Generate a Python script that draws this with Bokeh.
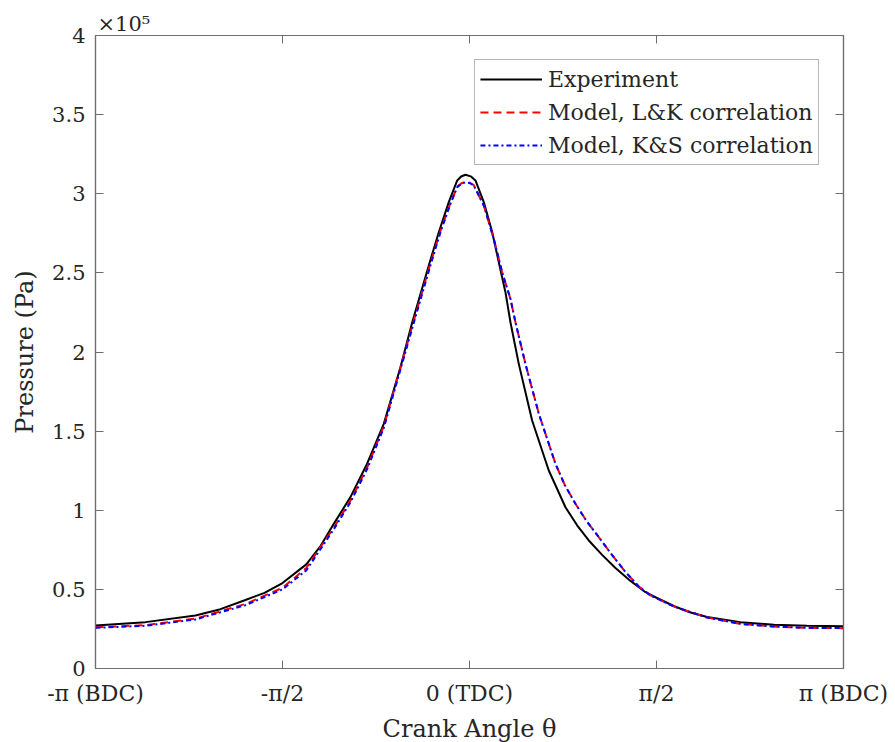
import math
from bokeh.plotting import figure
from bokeh.models import (FixedTicker, LinearAxis, Legend, LegendItem, Range1d)
from bokeh.embed import file_html
from bokeh.resources import INLINE

PI = math.pi

# ---- data; pressure in units of 1e5 Pa ----
theta_exp = [-PI, -2.722, -2.302, -2.092, -1.882, -1.722, -PI/2, -1.371, -1.250,
             -1.140, -1.000, -0.860, -0.720, -0.580, -0.481, -0.342, -0.258,
             -0.174, -0.103, -0.070, -0.034, 0.010, 0.050, 0.120, 0.191, 0.246,
             0.302, 0.344, 0.414, 0.526, 0.666, 0.806, 0.904, 1.002, 1.114,
             1.226, 1.350, 1.478, PI/2, 1.716, 1.850, 1.996, 2.276, 2.556, 2.836, PI]
p_exp = [0.272, 0.293, 0.335, 0.375, 0.433, 0.478, 0.540, 0.658, 0.775,
         0.914, 1.083, 1.294, 1.546, 1.904, 2.188, 2.547, 2.757,
         2.947, 3.084, 3.109, 3.12, 3.110, 3.084, 2.947, 2.757, 2.567,
         2.378, 2.188, 1.925, 1.567, 1.251, 1.019, 0.905, 0.809, 0.718,
         0.635, 0.555, 0.482, 0.447, 0.395, 0.355, 0.326, 0.293, 0.276, 0.270, 0.267]

theta_ks = [-PI, -2.722, -2.302, -1.882, -PI/2, -1.371, -1.140, -1.000, -0.860,
            -0.720, -0.580, -0.467, -0.328, -0.244, -0.160, -0.103, -0.070,
            -0.034, 0.000, 0.036, 0.120, 0.204, 0.274, 0.344, 0.386, 0.470,
            0.582, 0.722, 0.800, 0.890, 0.985, 1.086, 1.200, 1.310, 1.420,
            1.520, 1.716, 1.996, 2.276, 2.556, 2.836, PI]
p_ks = [0.257, 0.270, 0.310, 0.400, 0.50, 0.62, 0.88, 1.05, 1.26,
        1.52, 1.89, 2.188, 2.547, 2.757, 2.936, 3.042, 3.062,
        3.073, 3.068, 3.052, 2.926, 2.715, 2.504, 2.336, 2.188, 1.925,
        1.61, 1.294, 1.16, 1.041, 0.93, 0.83, 0.715, 0.61, 0.52,
        0.462, 0.392, 0.322, 0.282, 0.265, 0.257, 0.255]

theta_lk = [-PI, -2.722, -2.302, -1.882, -PI/2, -1.371, -1.140, -1.000, -0.860,
            -0.720, -0.580, -0.467, -0.328, -0.244, -0.160, -0.103, -0.070,
            -0.034, 0.000, 0.036, 0.120, 0.204, 0.274, 0.344, 0.386, 0.470,
            0.582, 0.722, 0.800, 0.890, 0.985, 1.086, 1.200, 1.310, 1.420,
            1.520, 1.716, 1.996, 2.276, 2.556, 2.836, PI]
p_lk = [0.260, 0.274, 0.315, 0.408, 0.51, 0.635, 0.89, 1.06, 1.27,
        1.53, 1.90, 2.20, 2.56, 2.765, 2.94, 3.045, 3.065,
        3.076, 3.070, 3.054, 2.926, 2.715, 2.504, 2.336, 2.188, 1.925,
        1.61, 1.294, 1.16, 1.041, 0.93, 0.83, 0.715, 0.61, 0.52,
        0.462, 0.392, 0.322, 0.282, 0.265, 0.257, 0.255]

x_ticks = [-PI, -PI/2, 0.0, PI/2, PI]
x_tick_labels = ["-π (BDC)", "-π/2", "0 (TDC)", "π/2", "π (BDC)"]
y_ticks = [0, 0.5, 1, 1.5, 2, 2.5, 3, 3.5, 4]
y_tick_labels = ["0", "0.5", "1", "1.5", "2", "2.5", "3", "3.5", "4"]
SCALE = 1e5

FONT = "DejaVu Serif"
TXT = "#262626"
AX = "#6e6e6e"

p = figure(frame_width=748, frame_height=633, output_backend="svg",
           toolbar_location=None,
           x_range=Range1d(-PI, PI), y_range=Range1d(0, 4 * SCALE),
           min_border_left=95, min_border_right=47, min_border_top=35,
           min_border_bottom=60, x_axis_label="Crank Angle θ",
           y_axis_label="Pressure (Pa)", title="×10⁵")
p.grid.visible = False
p.outline_line_color = AX
p.outline_line_width = 1.2
p.background_fill_color = "white"
p.border_fill_color = "white"
p.title.align = "left"
p.title.offset = 2
p.title.standoff = 0
p.title.text_font = FONT
p.title.text_font_size = "21px"
p.title.text_font_style = "normal"
p.title.text_color = TXT

xt = FixedTicker(ticks=x_ticks)
yt = FixedTicker(ticks=[v * SCALE for v in y_ticks])
x_over = {t: l for t, l in zip(x_ticks, x_tick_labels)}
y_over = {v * SCALE: l for v, l in zip(y_ticks, y_tick_labels)}

def style(ax, labels=True):
    ax.axis_line_color = AX
    ax.axis_line_width = 1.2
    ax.major_tick_line_color = AX
    ax.major_tick_in = 8
    ax.major_tick_out = 0
    ax.minor_tick_line_color = None
    ax.major_label_text_font = FONT
    ax.major_label_text_font_size = "21px"
    ax.major_label_text_color = TXT
    ax.axis_label_text_font = FONT
    ax.axis_label_text_font_size = "24px"
    ax.axis_label_text_font_style = "normal"
    ax.axis_label_text_color = TXT
    if not labels:
        ax.major_label_text_color = None
        ax.major_label_text_font_size = "1px"
        ax.major_label_standoff = 0

p.xaxis.ticker = xt
p.xaxis.major_label_overrides = x_over
p.yaxis.ticker = yt
p.yaxis.major_label_overrides = y_over
style(p.xaxis[0]); style(p.yaxis[0])
p.xaxis.major_label_text_font_size = "22px"
p.xaxis.major_label_standoff = 12
p.yaxis.major_label_standoff = 10
p.xaxis.axis_label_standoff = 6
p.yaxis.axis_label_standoff = 10

top = LinearAxis(ticker=xt, major_label_overrides=x_over)
style(top, labels=False)
right = LinearAxis(ticker=yt, major_label_overrides=y_over)
style(right, labels=False)
p.add_layout(top, "above")
p.add_layout(right, "right")

r_exp = p.line(theta_exp, [v * SCALE for v in p_exp],
               line_color="black", line_width=2)
r_lk = p.line(theta_lk, [v * SCALE for v in p_lk], line_color="#ff0000",
              line_width=2, line_dash="8 5")
r_ks = p.line(theta_ks, [v * SCALE for v in p_ks], line_color="#0000ff",
              line_width=2, line_dash="5 3 2 3")

legend = Legend(items=[LegendItem(label="Experiment", renderers=[r_exp]),
                       LegendItem(label="Model, L&K correlation", renderers=[r_lk]),
                       LegendItem(label="Model, K&S correlation", renderers=[r_ks])],
                location="top_right")
legend.margin = 24
legend.padding = 5
legend.spacing = 5
legend.glyph_width = 62
legend.glyph_height = 28
legend.label_height = 28
legend.label_standoff = 6
legend.label_text_font = FONT
legend.label_text_font_size = "22px"
legend.label_text_color = TXT
legend.border_line_color = AX
legend.border_line_width = 1.2
legend.background_fill_alpha = 1.0
p.add_layout(legend)

open("out.html", "w").write(file_html(p, INLINE))
